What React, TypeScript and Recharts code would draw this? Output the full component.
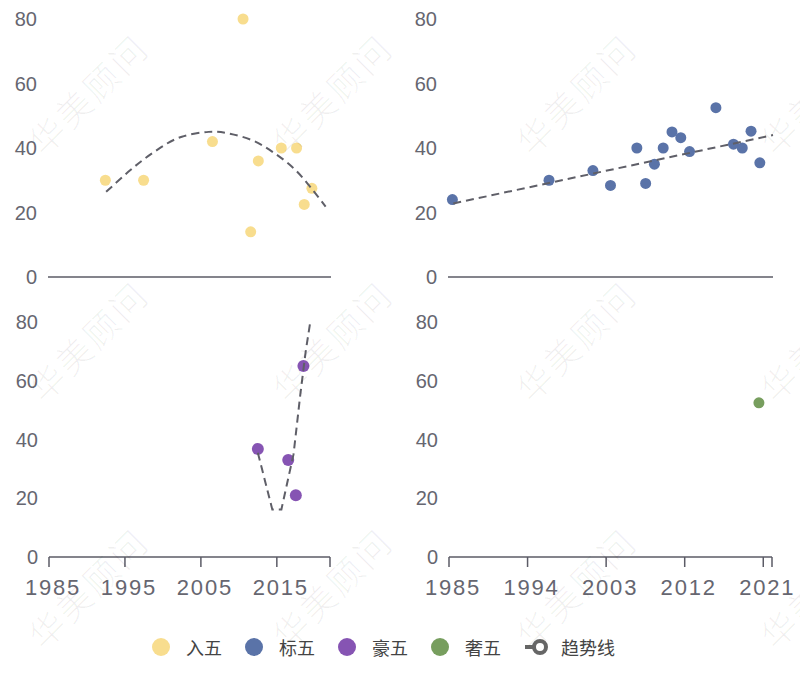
import { ScatterChart, Scatter, XAxis, YAxis } from 'recharts';

// series names (legend order)
const seriesNames = ['入五', '标五', '豪五', '奢五'];
const trendName = '趋势线';
const watermarkText = '华美顾问';

// 入五
const ruYears = [1992.5, 1997.5, 2006.5, 2010.5, 2011.5, 2012.5, 2015.5, 2017.5, 2018.5, 2019.5];
const ruValues = [30, 30, 42, 80, 14, 36, 40, 40, 22.5, 27.5];
const ruTrendYears = [1992.6, 1995.5, 1997.7, 1999.9, 2002.5, 2006, 2008.6, 2011.6, 2014.3, 2016.9, 2019.1, 2021.3];
const ruTrendValues = [26.4, 32.6, 36.8, 40.4, 43.5, 45, 44.5, 42.5, 38.9, 34.2, 28.5, 21.8];

// 标五
const biaoYears = [1985.5, 1996.5, 2001.5, 2003.5, 2006.5, 2007.5, 2008.5, 2009.5, 2010.5, 2011.5, 2012.5, 2015.5, 2017.5, 2018.5, 2019.5, 2020.5];
const biaoValues = [24, 30, 33, 28.4, 40, 29, 35, 40, 45, 43.2, 38.9, 52.5, 41.2, 40, 45.2, 35.4];
const biaoTrendYears = [1985.6, 2022];
const biaoTrendValues = [22.8, 44];

// 豪五
const haoYears = [2012.5, 2016.5, 2017.5, 2018.5];
const haoValues = [36.8, 33, 21, 65];
const haoTrendYears = [2012.5, 2014.4, 2015.6, 2017.2, 2018.1, 2018.8, 2019.4];
const haoTrendValues = [35.5, 16.2, 16.2, 35, 55.5, 70, 80];

// 奢五
const sheYears = [2020.5];
const sheValues = [52.5];

const yTicks = [0, 20, 40, 60, 80];
const leftXTicks = [1985, 1995, 2005, 2015, 2022];
const rightXTicks = [1985, 1994, 2003, 2012, 2021, 2022];
const hiddenTickLabels = [2022];

const colors = ['#f8dd8e', '#5a73a8', '#8654b3', '#779e5e'];
const trendColor = '#5f5f68';
const axisColor = '#5b5b66';
const tickColor = '#666670';

const toPoints = (xs: number[], ys: number[]) => xs.map((year, i) => ({ year, value: ys[i] }));

interface PanelProps {
  left: number;
  top: number;
  height: number;
  margin: { top: number; right: number; bottom: number; left: number };
  yWidth: number;
  xHeight: number;
  points: { year: number; value: number }[];
  color: string;
  radius: number;
  trend?: { year: number; value: number }[];
  trendType?: 'natural' | 'linear';
  xTicks?: number[];
}

function Panel({ left, top, height, margin, yWidth, xHeight, points, color, radius, trend, trendType = 'linear', xTicks }: PanelProps) {
  return (
    <div style={{ position: 'absolute', left, top }}>
      <ScatterChart width={400} height={height} margin={margin}>
        <XAxis
          type="number"
          dataKey="year"
          domain={[1985, 2022]}
          ticks={xTicks}
          interval={0}
          height={xHeight}
          axisLine={{ stroke: axisColor, strokeWidth: 1.5 }}
          tickLine={xTicks ? { stroke: axisColor, strokeWidth: 1.5 } : false}
          tickSize={10}
          tickMargin={12}
          tick={xTicks ? { fill: tickColor, fontSize: 22, letterSpacing: 1.8, dx: 4, fontFamily: 'Liberation Sans, Arial, sans-serif' } : false}
          tickFormatter={(v: number) => (hiddenTickLabels.includes(v) ? '' : String(v))}
        />
        <YAxis
          type="number"
          dataKey="value"
          domain={[0, 80]}
          ticks={yTicks}
          interval={0}
          width={yWidth}
          axisLine={false}
          tickLine={false}
          tickMargin={5}
          tick={{ fill: tickColor, fontSize: 20, fontFamily: 'Liberation Sans, Arial, sans-serif' }}
        />
        <Scatter
          data={points}
          isAnimationActive={false}
          shape={(p: any) => <circle cx={p.cx} cy={p.cy} r={radius} fill={color} />}
        />
        {trend && (
          <Scatter
            data={trend}
            isAnimationActive={false}
            line={{ stroke: trendColor, strokeWidth: 2, strokeDasharray: '8 5' }}
            lineJointType={trendType}
            shape={() => <g />}
          />
        )}
      </ScatterChart>
    </div>
  );
}

function LegendBar() {
  return (
    <div
      style={{
        position: 'absolute', left: 152, top: 636, display: 'flex', alignItems: 'center',
        fontFamily: '"Noto Sans CJK SC", sans-serif', fontSize: 18, color: '#444', height: 22,
      }}
    >
      {seriesNames.map((name, i) => (
        <div key={name} style={{ display: 'flex', alignItems: 'center', marginRight: 23 }}>
          <span style={{ width: 18, height: 18, borderRadius: 9, background: colors[i], marginRight: 16 }} />
          <span style={{ lineHeight: '22px' }}>{name}</span>
        </div>
      ))}
      <div style={{ display: 'flex', alignItems: 'center' }}>
        <svg width={24} height={18} style={{ marginRight: 13 }}>
          <line x1={1} y1={9} x2={12} y2={9} stroke="#666" strokeWidth={4} />
          <circle cx={16} cy={9} r={6} fill="#fff" stroke="#666" strokeWidth={4} />
        </svg>
        <span style={{ lineHeight: '22px' }}>{trendName}</span>
      </div>
    </div>
  );
}

function Watermarks() {
  const cols = [87, 331, 575, 819];
  const rows = [93, 340, 587];
  return (
    <svg width={800} height={675} style={{ position: 'absolute', left: 0, top: 0, pointerEvents: 'none' }}>
      {rows.map((cy) =>
        cols.map((cx) => (
          <text
            key={`${cx}-${cy}`}
            x={cx}
            y={cy}
            transform={`rotate(-45 ${cx} ${cy})`}
            textAnchor="middle"
            dominantBaseline="central"
            fontSize={35}
            letterSpacing={3}
            fontFamily='"Noto Sans CJK SC", sans-serif'
            fontWeight={300}
            fill="#000"
            fillOpacity={0.06}
          >
            {watermarkText}
          </text>
        )),
      )}
    </svg>
  );
}

export default function App() {
  return (
    <div style={{ position: 'absolute', left: 0, top: 0, width: 800, height: 675, background: '#fff', overflow: 'hidden' }}>
      <Panel
        left={0} top={0} height={290}
        margin={{ top: 19, right: 69, bottom: 12, left: 0 }}
        yWidth={48} xHeight={1}
        points={toPoints(ruYears, ruValues)} color={colors[0]} radius={5.5}
        trend={toPoints(ruTrendYears, ruTrendValues)} trendType="natural"
      />
      <Panel
        left={400} top={0} height={290}
        margin={{ top: 19, right: 27, bottom: 12, left: 0 }}
        yWidth={48} xHeight={1}
        points={toPoints(biaoYears, biaoValues)} color={colors[1]} radius={5.5}
        trend={toPoints(biaoTrendYears, biaoTrendValues)}
      />
      <Panel
        left={0} top={290} height={330}
        margin={{ top: 32, right: 70, bottom: 13, left: 0 }}
        yWidth={49} xHeight={50}
        points={toPoints(haoYears, haoValues)} color={colors[2]} radius={6}
        trend={toPoints(haoTrendYears, haoTrendValues)}
        xTicks={leftXTicks}
      />
      <Panel
        left={400} top={290} height={330}
        margin={{ top: 32, right: 28, bottom: 13, left: 0 }}
        yWidth={49} xHeight={50}
        points={toPoints(sheYears, sheValues)} color={colors[3]} radius={5.5}
        xTicks={rightXTicks}
      />
      <LegendBar />
      <Watermarks />
    </div>
  );
}
